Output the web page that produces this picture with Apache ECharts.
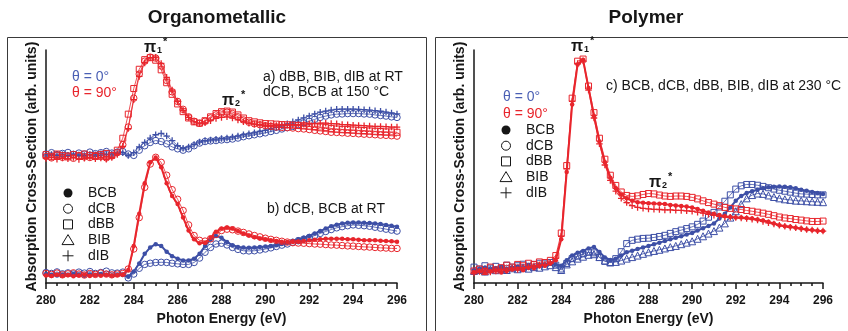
<!DOCTYPE html>
<html>
<head>
<meta charset="utf-8">
<script src="https://cdn.jsdelivr.net/npm/echarts@6/dist/echarts.min.js"></script>
<style>
html, body { margin: 0; padding: 0; background: #fff; }
#chart { width: 848px; height: 331px; }
</style>
</head>
<body>
<div id="chart"></div>
<script>
// photon energy grid (eV), shared by every spectrum
const energy = [280,280.25,280.5,280.75,281,281.25,281.5,281.75,282,282.25,282.5,282.75,283,283.25,283.5,283.75,
  284,284.25,284.5,284.75,285,285.25,285.5,285.75,286,286.25,286.5,286.75,287,287.25,287.5,287.75,
  288,288.25,288.5,288.75,289,289.25,289.5,289.75,290,290.25,290.5,290.75,291,291.25,291.5,291.75,
  292,292.25,292.5,292.75,293,293.25,293.5,293.75,294,294.25,294.5,294.75,295,295.25,295.5,295.75,296];
const xTicks = [280, 282, 284, 286, 288, 290, 292, 294, 296];

// organometallic a) -- offset spectra (arb. units)
const aRed90dCB = [65.7,65,66.3,65.3,66,64.8,66.2,65.5,65.2,66.3,65.7,65,66,
  67.7,71.8,81,96,108.5,115.2,117.3,116.8,112.7,105.2,99.3,94.3,90.2,86.3,84,83,84,85.7,87.3,88.3,88.7,88,86.3,84.7,83.5,82.7,82.2,
  81.7,81.3,81,80.8,80.7,80.5,80.2,80,79.7,79.3,79,78.7,78.3,78.2,78,77.8,77.7,77.5,77.3,77.2,77,76.8,76.7,76.5,76.3];
const aRed90dBB = [66.7,65.8,67,66.2,65.5,66.7,66,67,66.3,65.7,66.7,67.3,66.3,
  69,75.2,87.7,101,111,116,117,115.7,110.7,104,98,93,89,85.7,83.7,83,84.3,86.3,88,89,89.3,88.8,87.3,85.7,84.3,83.7,83.2,
  82.8,82.7,82.5,82.3,82.2,82,81.8,81.7,81.5,81.3,81,80.7,80.3,80,79.8,79.7,79.5,79.3,79.2,79,78.8,78.7,78.5,78.5,78.3];
const aRed90dIB = [64.7,65.3,64.3,65,64.5,65.2,64.2,64.8,65.3,64.5,65,64.3,65.2,
  66.8,71,80.2,95.2,107.3,114.3,117,117.3,114,106.8,100.2,94.3,89.7,86,83.7,82.7,83.2,84.3,85.5,86,86.3,85.7,84.7,83.7,83,82.5,82.2,
  82,81.8,81.8,82,82,82.2,82.3,82.5,82.7,82.8,83,83,82.8,82.7,82.3,82.2,82,81.8,81.7,81.5,81.3,81.3,81.2,81,81];
const aBlue0dCB = [67,67.7,66.7,67.3,67.8,66.8,67.5,67,68,67.2,67.7,68.3,67.5,
  68,68.3,67,66.3,69,71.3,73,74,73.5,72.3,70.7,69.7,69,69.7,71.3,72.7,73.5,73.8,74,74.3,74.5,74.8,75.3,76,76.5,77,77.5,
  78,78.7,79.3,80,80.7,81.3,82.2,83.2,84,85,86,86.7,87.3,87.7,87.8,88,88,88,87.8,87.7,87.3,87,86.7,86.3,86];
const aBlue0dIB = [66.5,66.8,66.2,66.7,66.3,67,66.5,66.2,66.8,66.5,67.2,66.7,67,
  67.3,67.7,66.3,67.7,70.7,73,75.3,77,77.7,76.3,74,71.3,70,70.7,72,73.3,74,74.3,74.7,75,75.3,75.8,76.3,77,77.5,78,78.7,
  79.3,80,80.8,81.7,82.7,83.7,84.7,85.8,86.8,87.8,88.7,89.3,89.8,90.2,90.3,90.3,90.3,90.2,90,89.8,89.5,89.2,88.8,88.3,87.8];

// organometallic b)
const bRedBCB = [4,3.7,4.3,3.8,4.2,3.5,4,4.3,3.7,4.2,3.8,4.3,4,
  4.2,4.5,6.8,19.3,36,51.8,62.7,65.2,60.2,51.8,45.2,41,34,27.3,22.7,20.7,21,23.5,26.7,28.3,28.8,28.3,27,25.7,24.7,23.8,23.2,
  22.7,22.2,21.8,21.5,21.3,21.3,21.5,21.8,22.2,22.5,22.8,23,23,23,23,22.8,22.7,22.5,22.3,22.3,22.2,22,21.8,21.7,21.5];
const bRedDCB = [5,4.5,5.2,4.3,4.8,5.3,4.7,4.2,5,4.5,5.2,4.7,4.3,
  4.7,5,7.3,17.7,34,49.7,61.8,65.3,62.7,56,48.5,43.5,37.7,30.2,24.7,22.2,21.8,23,25.3,27.3,28,27.7,27,26.3,25.5,24.7,24,
  23.3,22.7,22.2,21.7,21.3,21,20.8,20.7,20.5,20.3,20.2,20,19.8,19.7,19.5,19.3,19.2,19,18.8,18.7,18.5,18.3,18.2,18,18];
const bBlueBCB = [4.7,4.3,4,4.5,4.2,4.7,4.3,3.8,4.5,4.2,4.7,4.3,4,
  4.3,4.2,3.3,6,10.2,15.2,18.5,20.2,19.3,16.3,14,12.7,11.7,11.7,12.7,15.2,19.3,22.5,24.5,23.5,21.3,19.7,18.8,18.5,18.3,18.5,18.7,
  19,19.3,19.7,20.3,21,21.8,22.7,23.5,24.5,25.7,27,28.3,29.5,30.3,31,31.3,31.5,31.5,31.3,31.2,31,30.7,30.2,29.8,29.3];
const bBlueDCB = [5.5,5,5.8,4.8,5.3,4.7,5.7,5.2,6,5,5.5,6.2,5.3,
  5.2,5.7,2.7,4.7,7.7,9.7,10.3,10.7,10.8,10.7,10.3,10,9.7,9.7,10.7,13,16,18.5,20.3,20.7,19.8,18.5,17.5,16.8,16.7,16.8,17.2,
  17.7,18.3,19,19.7,20.3,21.2,22,22.8,23.7,24.7,25.8,26.8,27.8,28.7,29.3,29.8,30.2,30,29.8,29.5,29,28.5,28,27.5,27];

// polymer c)
const cRedBCB = [5.7,6.3,5.2,6,6.7,5.5,6.3,7,7.3,6.7,8,7.7,8.7,
  9,10.2,11.8,22.7,57.7,92.7,113.5,116,101.3,86.7,73.5,62.7,54.7,49.3,46,44,42.7,42,41.7,41.5,41.3,41.2,41,40.5,40.3,40,39.7,
  39.3,38.5,37.5,36.7,36,35.3,34.7,34.3,34,34,33.8,33.5,33,32.5,31.8,31,30,29.5,29.2,28.7,28.3,27.8,27.5,27.2,27];
const cRedDBB = [6.3,7.3,6,8.3,6.8,8,9.3,8.3,9.7,9,10.3,9.7,11,
  10.7,11.8,14.3,26,61,96,115.2,116.3,102.3,88.5,75.2,64.3,56,50.7,47.3,45.5,45,45.3,46,46.5,46.3,45.7,45.2,45,45.2,45.2,45,
  44.5,43.7,42.7,41.8,41,40.2,39.3,38.8,38.5,38.2,37.7,37.3,36.8,36.3,35.7,35,34.3,33.8,33.5,33,32.7,32.3,32,32,32.2];
const cRedDIB = [5.2,6,6.7,5.7,6.3,7.2,6.5,7.7,7,8,8.3,9,9.3,
  9.7,10.7,13,24.3,59.3,94.3,114,115.3,100.2,85.7,72.3,61.3,53.3,47.7,44,41.8,40.2,39.3,38.8,38.5,38.3,38.2,38,38,37.8,37.7,37.5,
  37.3,36.8,36.3,35.7,35.2,34.7,34.3,34.2,34,33.8,33.5,33.2,32.7,32,31.3,30.7,30,29.5,29,28.7,28.2,27.8,27.5,27.2,27];
const cBlueBCB = [6.8,7.3,8,7,7.7,8.3,7.3,8,8.5,7.7,9,8.3,9.3,
  9.7,10.2,9.7,9,11.8,14.3,15.7,16.7,18,18.8,16.2,13.3,12,12.7,14.3,16,16.8,17.7,18.5,19.3,20.2,21,21.8,22.7,23.5,24.3,25.2,
  26,27.3,28.5,29.7,31,33.5,36,39.3,42.7,45.2,46.8,47.7,48.5,49.2,49.7,50,50.2,50,49.7,49.2,48.5,48,47.3,46.8,46.3];
const cBlueDBB = [8.3,7.3,9,7.8,8.7,7.7,9.3,8.3,9,9.8,8.7,9.7,10.3,
  10,10.7,9.3,7.3,10.2,12.7,14,15.2,16,15.7,13.3,11.3,10.7,12.7,16.3,20.5,22.2,22.8,23.2,23.3,23.7,24.2,24.8,25.8,26.7,27.5,28.3,
  29.2,30.5,32.2,34.2,36.7,39.5,42.5,45.8,48.8,50.5,51.2,51.2,50.8,50.2,49.5,48.8,48.2,47.7,47.2,46.7,46.3,46.2,46,45.8,45.8];
const cBlueBIB = [6.3,6.8,6,7.2,6.7,7.5,6.8,7.7,7.2,8,7.5,8.3,8,
  8.7,9.3,8.3,6.8,9.7,11.3,12.7,13.7,14.7,15,13.5,11.7,10.7,11,11.7,12.7,13.5,14.3,15.2,16,16.7,17.3,18,18.7,19.3,20.2,21,
  21.7,23,24.3,25.7,27,28.8,31,34,37.3,41,44,45.7,46.5,46.3,45.5,44.7,44,43.5,43.2,42.8,42.7,42.5,42.3,42.2,42];

const legendNames = ['BCB', 'dCB', 'dBB', 'BIB', 'dIB'];
const legendMarks = ['filled', 'circle', 'square', 'triangle', 'plus'];

const FONT = "'Liberation Sans', Arial, sans-serif";
const RED = '#e8252c';
const BLUE = '#3d4fa6';
const BLUE_TXT = '#4a5fb4';
const INK = '#161616';
const PLUS = 'path://M4,0h2v4h4v2h-4v4h-2v-4h-4v-2h4z';

const SYMBOLS = { filled: 'circle', circle: 'circle', square: 'rect', triangle: 'triangle', plus: PLUS };
const SIZES = { filled: 4.5, circle: 6.5, square: 6, triangle: 7, plus: 6.5 };

function spectrum(name, vals, panel, color, mark) {
  const solid = mark === 'filled' || mark === 'plus';
  return {
    name: name,
    type: 'line',
    xAxisIndex: panel,
    yAxisIndex: panel,
    data: energy.map((e, i) => [e, vals[i]]),
    symbol: SYMBOLS[mark],
    symbolSize: SIZES[mark],
    showAllSymbol: true,
    lineStyle: { color: color, width: mark === 'filled' ? 2 : 0.8 },
    itemStyle: solid
      ? { color: color }
      : { color: 'rgba(255,255,255,0)', borderColor: color, borderWidth: 1 },
    emphasis: { disabled: true },
    silent: true
  };
}

function xAxisFor(gi) {
  return {
    gridIndex: gi,
    type: 'value',
    min: xTicks[0],
    max: xTicks[xTicks.length - 1],
    interval: 2,
    name: 'Photon Energy (eV)',
    nameLocation: 'middle',
    nameGap: 24,
    nameTextStyle: { fontFamily: FONT, fontWeight: 'bold', fontSize: 14, color: INK },
    axisLine: { lineStyle: { color: INK, width: 1.5 } },
    axisTick: { length: 6, lineStyle: { color: INK, width: 1.5 } },
    minorTick: { show: true, splitNumber: 4, length: 3, lineStyle: { color: INK, width: 1.5 } },
    axisLabel: { fontFamily: FONT, fontWeight: 'bold', fontSize: 12, color: INK, margin: 12 },
    splitLine: { show: false },
    minorSplitLine: { show: false }
  };
}

function yAxisFor(gi) {
  return {
    gridIndex: gi,
    type: 'value',
    min: 0,
    max: 121,
    name: 'Absorption Cross-Section (arb. units)',
    nameLocation: 'middle',
    nameGap: 7,
    nameTextStyle: { fontFamily: FONT, fontWeight: 'bold', fontSize: 14, color: INK },
    axisLine: { show: true, lineStyle: { color: INK, width: 1.5 } },
    axisTick: { show: false },
    axisLabel: { show: false },
    splitLine: { show: false }
  };
}

function txt(x, y, text, size, fill, opts) {
  return {
    type: 'text', x: x, y: y, silent: true,
    style: Object.assign({
      text: text, fill: fill || INK, font: (size || 14) + 'px ' + FONT,
      align: 'left', verticalAlign: 'middle'
    }, opts || {})
  };
}

// pi label with subscript and star
function piLabel(x, y, sub) {
  return [
    txt(x, y, 'π', 'bold 16', INK, { align: 'center' }),
    txt(x + 7, y + 3, sub, 'bold 9', INK),
    txt(x + 13, y - 6, '*', 'bold 11', INK)
  ];
}

function legendBlock(x, y0, dy) {
  const out = [];
  const st = { fill: 'none', stroke: INK, lineWidth: 1 };
  legendMarks.forEach((m, k) => {
    const cy = y0 + k * dy;
    if (m === 'filled') out.push({ type: 'circle', shape: { cx: x, cy: cy, r: 4.5 }, style: { fill: INK } });
    if (m === 'circle') out.push({ type: 'circle', shape: { cx: x, cy: cy, r: 4.5 }, style: st });
    if (m === 'square') out.push({ type: 'rect', shape: { x: x - 4.5, y: cy - 4.5, width: 9, height: 9 }, style: st });
    if (m === 'triangle') out.push({ type: 'polygon', shape: { points: [[x, cy - 5.5], [x + 6, cy + 4.5], [x - 6, cy + 4.5]] }, style: st });
    if (m === 'plus') {
      out.push({ type: 'line', shape: { x1: x - 5.5, y1: cy, x2: x + 5.5, y2: cy }, style: { stroke: INK, lineWidth: 1 } });
      out.push({ type: 'line', shape: { x1: x, y1: cy - 5.5, x2: x, y2: cy + 5.5 }, style: { stroke: INK, lineWidth: 1 } });
    }
    out.push(txt(x + 20, cy, legendNames[k], 14));
  });
  return out;
}

const graphics = [].concat(
  [
    { type: 'rect', shape: { x: 7.5, y: 37.5, width: 419, height: 320 }, style: { fill: 'none', stroke: '#3a3a3a', lineWidth: 1 }, silent: true },
    { type: 'rect', shape: { x: 435.5, y: 37.5, width: 440, height: 320 }, style: { fill: 'none', stroke: '#3a3a3a', lineWidth: 1 }, silent: true },
    txt(217, 18, 'Organometallic', 'bold 19', INK, { align: 'center' }),
    txt(646, 18, 'Polymer', 'bold 19', INK, { align: 'center' }),
    txt(72, 77, 'θ = 0°', 14, BLUE_TXT),
    txt(72, 93, 'θ = 90°', 14, RED),
    txt(263, 77, 'a) dBB, BIB, dIB at RT', 14),
    txt(263, 92, 'dCB, BCB at 150 °C', 14),
    txt(267, 209, 'b) dCB, BCB at RT', 14),
    txt(503, 97, 'θ = 0°', 14, BLUE_TXT),
    txt(503, 114, 'θ = 90°', 14, RED),
    txt(606, 86, 'c) BCB, dCB, dBB, BIB, dIB at 230 °C', 14)
  ],
  piLabel(150, 48, '1'),
  piLabel(228, 101, '2'),
  piLabel(577, 47, '1'),
  piLabel(655, 183, '2'),
  legendBlock(68, 193, 15.7),
  legendBlock(506, 130, 15.7)
);

const chart = echarts.init(document.getElementById('chart'), null, { renderer: 'canvas' });
chart.setOption({
  animation: false,
  backgroundColor: '#fff',
  grid: [
    { left: 46, top: 50, width: 351, height: 242 },
    { left: 474, top: 50, width: 349, height: 242 }
  ],
  xAxis: [xAxisFor(0), xAxisFor(1)],
  yAxis: [yAxisFor(0), yAxisFor(1)],
  series: [
    spectrum('a dCB 0', aBlue0dCB, 0, BLUE, 'circle'),
    spectrum('a dIB 0', aBlue0dIB, 0, BLUE, 'plus'),
    spectrum('a dCB 90', aRed90dCB, 0, RED, 'circle'),
    spectrum('a dBB 90', aRed90dBB, 0, RED, 'square'),
    spectrum('a dIB 90', aRed90dIB, 0, RED, 'plus'),
    spectrum('b dCB 0', bBlueDCB, 0, BLUE, 'circle'),
    spectrum('b BCB 0', bBlueBCB, 0, BLUE, 'filled'),
    spectrum('b dCB 90', bRedDCB, 0, RED, 'circle'),
    spectrum('b BCB 90', bRedBCB, 0, RED, 'filled'),
    spectrum('c BIB 0', cBlueBIB, 1, BLUE, 'triangle'),
    spectrum('c dBB 0', cBlueDBB, 1, BLUE, 'square'),
    spectrum('c BCB 0', cBlueBCB, 1, BLUE, 'filled'),
    spectrum('c dBB 90', cRedDBB, 1, RED, 'square'),
    spectrum('c dIB 90', cRedDIB, 1, RED, 'plus'),
    spectrum('c BCB 90', cRedBCB, 1, RED, 'filled')
  ],
  graphic: graphics
});
</script>
</body>
</html>
